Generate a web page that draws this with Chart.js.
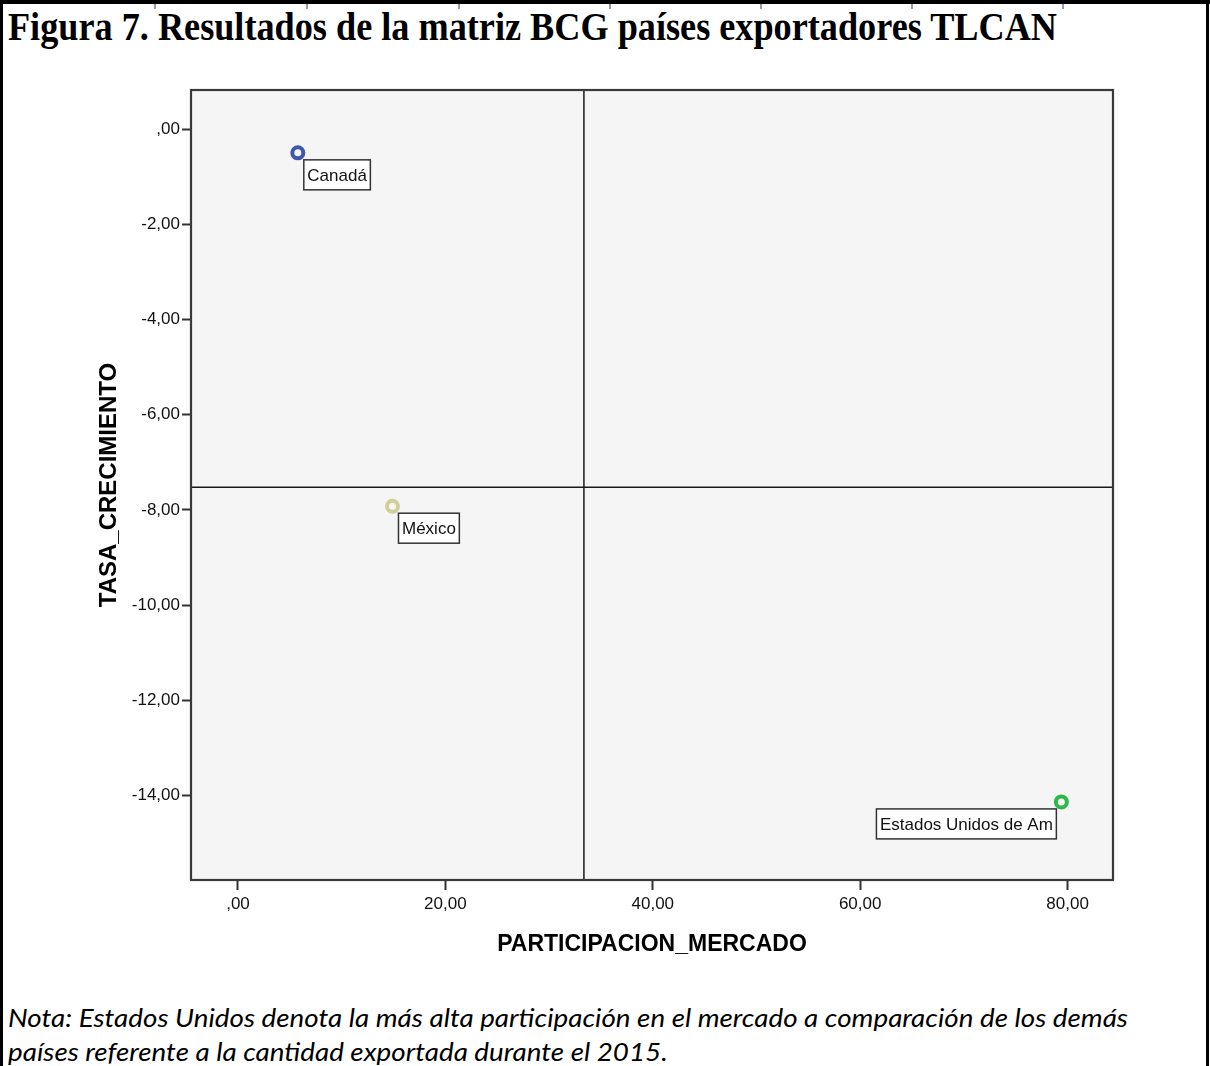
<!DOCTYPE html>
<html>
<head>
<meta charset="utf-8">
<script src="https://cdn.jsdelivr.net/npm/chart.js@4.4.1/dist/chart.umd.min.js"></script>
<style>
html,body{margin:0;padding:0;background:#fff;}
#page{position:relative;width:1210px;height:1066px;overflow:hidden;background:#fff;}
.bar{position:absolute;background:#000;}
.nick{position:absolute;top:4px;width:2px;height:5px;background:#9a9aa6;}
#title{position:absolute;left:8px;top:6px;font-family:"Liberation Serif","Times New Roman",serif;font-weight:bold;font-size:41px;line-height:41px;white-space:nowrap;color:#000;transform-origin:0 0;}
.note{position:absolute;left:8px;font-family:Lato,"Open Sans",sans-serif;font-style:italic;font-size:25px;line-height:25px;white-space:nowrap;color:#000;transform-origin:0 0;}
#wrap{position:absolute;left:0;top:0;width:1210px;height:1066px;}
</style>
</head>
<body>
<div id="page">
  <div class="bar" style="left:0;top:0;width:1210px;height:4px;"></div>
  <div class="bar" style="left:0;top:0;width:3px;height:1066px;"></div>
  <div class="bar" style="left:1206px;top:0;width:3px;height:1066px;"></div>
  <div class="nick" style="left:154px"></div>
  <div class="nick" style="left:306px"></div>
  <div class="nick" style="left:458px"></div>
  <div class="nick" style="left:609px"></div>
  <div class="nick" style="left:760px"></div>
  <div class="nick" style="left:911px"></div>
  <div class="nick" style="left:1062px"></div>
  <div id="title">Figura 7. Resultados de la matriz BCG países exportadores TLCAN</div>
  <div class="note" id="note1" style="top:1005px;">Nota: Estados Unidos denota la más alta participación en el mercado a comparación de los demás</div>
  <div class="note" id="note2" style="top:1039px;">países referente a la cantidad exportada durante el 2015.</div>
  <div id="wrap"><canvas id="c" width="1210" height="1066"></canvas></div>
</div>
<script>
// ---- data ----
const countries = ['Canadá', 'México', 'Estados Unidos de Am'];
const participacion = [5.77, 14.9, 79.4];
const crecimiento = [-0.50, -7.92, -14.13];
const pointColors = ['#3E58AC', '#D3CE97', '#2EB848'];
const xTickValues = [0, 20, 40, 60, 80];
const yTickValues = [0, -2, -4, -6, -8, -10, -12, -14];
const xRange = [-4.53, 84.38];
const yRange = [-15.77, 0.82];
const refX = [33.36];
const refY = [-7.52];

// fit title / note widths
function fit(id, target) {
  const el = document.getElementById(id);
  const w = el.getBoundingClientRect().width;
  el.style.transform = 'scaleX(' + (target / w) + ')';
  return target / w;
}
fit('title', 1049);
const s = fit('note1', 1120);
document.getElementById('note2').style.transform = 'scaleX(' + s + ')';

function fmt(v) {
  let t = Math.abs(v).toFixed(2).replace('.', ',');
  if (t.startsWith('0,')) t = t.slice(1);
  return (v < 0 ? '-' : '') + t;
}

const plotDeco = {
  id: 'plotDeco',
  beforeDraw(chart) {
    const a = chart.chartArea, ctx = chart.ctx;
    ctx.save();
    ctx.fillStyle = '#f5f5f5';
    ctx.fillRect(a.left, a.top, a.right - a.left, a.bottom - a.top);
    ctx.restore();
  },
  beforeDatasetsDraw(chart) {
    const ctx = chart.ctx, xs = chart.scales.x, ys = chart.scales.y, a = chart.chartArea;
    ctx.save();
    ctx.font = '17px "Liberation Sans", Arial, sans-serif';
    ctx.textBaseline = 'middle';
    countries.forEach((name, i) => {
      const px = xs.getPixelForValue(participacion[i]);
      const py = ys.getPixelForValue(crecimiento[i]);
      const tw = ctx.measureText(name).width;
      const bw = tw + 7, bh = 30;
      let bx = px + 6;
      if (bx + bw > a.right - 4) bx = px - 5 - bw;
      const by = py + 7;
      ctx.fillStyle = '#ffffff';
      ctx.fillRect(bx, by, bw, bh);
      ctx.strokeStyle = '#333';
      ctx.lineWidth = 1.5;
      ctx.strokeRect(bx, by, bw, bh);
      ctx.fillStyle = '#111';
      ctx.fillText(name, bx + 3.5, by + bh / 2 + 1);
    });
    ctx.restore();
  },
  afterDraw(chart) {
    const a = chart.chartArea, ctx = chart.ctx;
    ctx.save();
    ctx.strokeStyle = '#3a3a3a';
    ctx.lineWidth = 2.2;
    ctx.strokeRect(a.left, a.top, a.right - a.left, a.bottom - a.top);
    ctx.restore();
  }
};

new Chart(document.getElementById('c'), {
  type: 'scatter',
  data: {
    datasets: [
      {
        type: 'scatter',
        label: 'Países',
        data: countries.map((c, i) => ({ x: participacion[i], y: crecimiento[i] })),
        pointRadius: 5.5,
        pointHoverRadius: 5.5,
        pointBorderWidth: 4,
        pointBorderColor: pointColors,
        pointBackgroundColor: 'rgba(0,0,0,0)',
        order: 1
      },
      {
        type: 'line',
        label: 'refX',
        data: [{ x: refX[0], y: yRange[0] }, { x: refX[0], y: yRange[1] }],
        borderColor: '#1a1a1a', borderWidth: 1.5, pointRadius: 0, fill: false,
        order: 2
      },
      {
        type: 'line',
        label: 'refY',
        data: [{ x: xRange[0], y: refY[0] }, { x: xRange[1], y: refY[0] }],
        borderColor: '#1a1a1a', borderWidth: 1.5, pointRadius: 0, fill: false,
        order: 2
      }
    ]
  },
  options: {
    responsive: false,
    animation: false,
    devicePixelRatio: 1,
    layout: { padding: { left: 90, right: 97, top: 90, bottom: 86 } },
    plugins: { legend: { display: false }, tooltip: { enabled: false }, title: { display: false } },
    scales: {
      x: {
        type: 'linear', min: xRange[0], max: xRange[1],
        afterBuildTicks: ax => { ax.ticks = xTickValues.map(v => ({ value: v })); },
        afterFit: ax => { ax.height = 100; },
        ticks: { color: '#111', font: { family: "'Liberation Sans', Arial, sans-serif", size: 17 }, padding: 4, callback: fmt, maxRotation: 0, autoSkip: false },
        grid: { display: true, drawOnChartArea: false, drawTicks: true, tickLength: 10, tickWidth: 2, tickColor: '#333' },
        border: { display: false },
        title: { display: true, text: 'PARTICIPACION_MERCADO', color: '#000', font: { family: "'Liberation Sans', Arial, sans-serif", size: 23, weight: 'bold' }, padding: { top: 0, bottom: 22 } }
      },
      y: {
        type: 'linear', min: yRange[0], max: yRange[1],
        afterBuildTicks: ax => { ax.ticks = yTickValues.map(v => ({ value: v })); },
        afterFit: ax => { ax.width = 101; },
        ticks: { color: '#111', font: { family: "'Liberation Sans', Arial, sans-serif", size: 17 }, padding: 2, callback: fmt, autoSkip: false },
        grid: { display: true, drawOnChartArea: false, drawTicks: true, tickLength: 9, tickWidth: 2, tickColor: '#333' },
        border: { display: false },
        title: { display: true, text: 'TASA_CRECIMIENTO', color: '#000', font: { family: "'Liberation Sans', Arial, sans-serif", size: 24, weight: 'bold' }, padding: { top: 5, bottom: 0 } }
      }
    }
  },
  plugins: [plotDeco]
});
</script>
</body>
</html>
